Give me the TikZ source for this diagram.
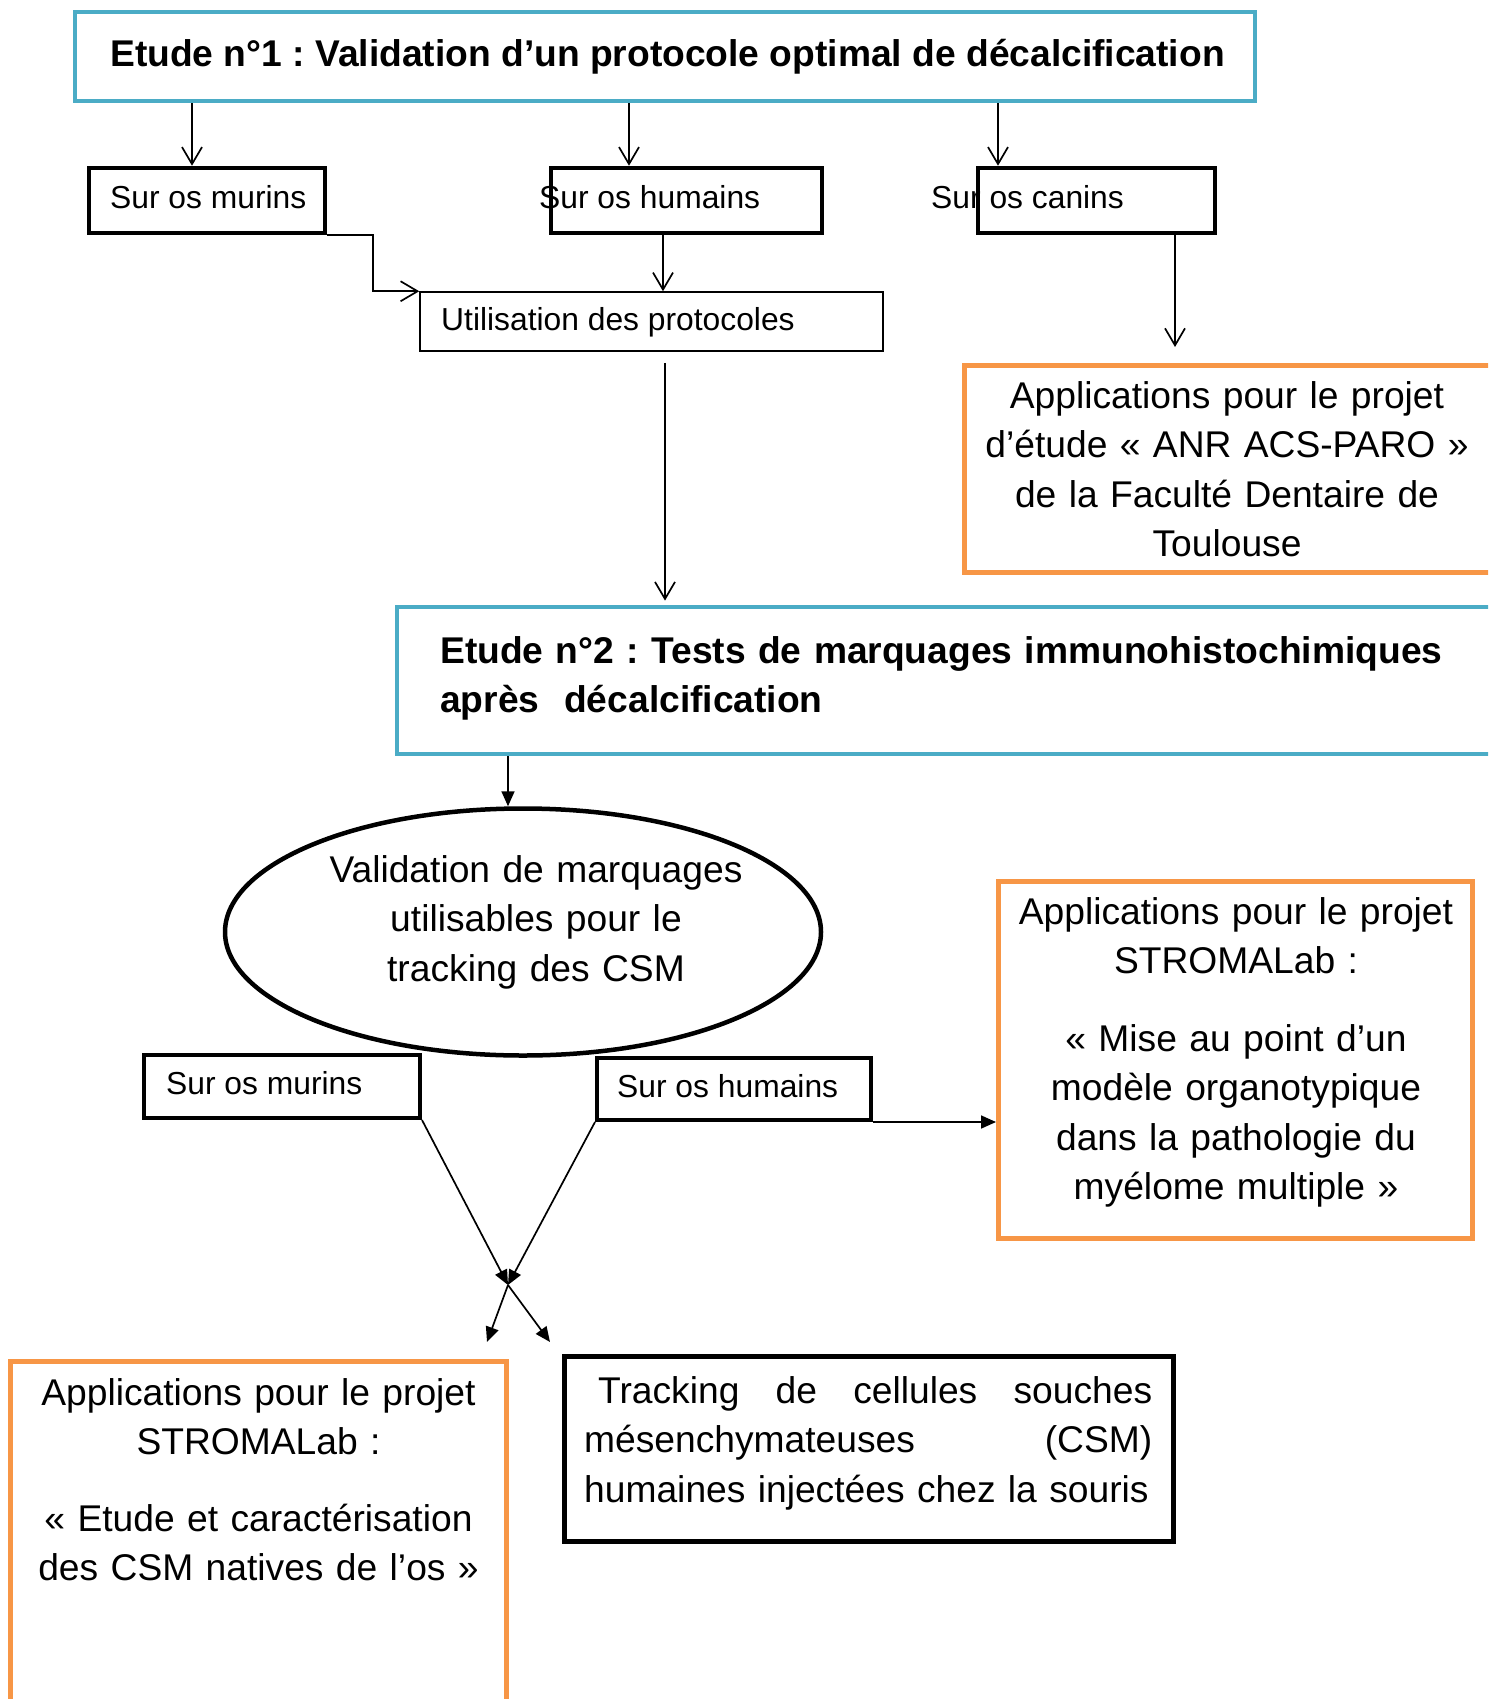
\documentclass[tikz,border=0pt]{standalone}
\usepackage{fontspec}
\setmainfont{Liberation Sans}
\usetikzlibrary{arrows.meta,shapes.geometric}
\newcommand{\bigtxt}{\fontsize{37.2}{49.5}\selectfont}
\newcommand{\smalltxt}{\fontsize{31.8}{38}\selectfont}
\frenchspacing

\begin{document}
\begin{tikzpicture}[x=1pt, y=-1pt,
    bluebox/.style={draw=etudeblue, line width=4.8pt, inner sep=0pt},
    orangebox/.style={draw=projorange, line width=5pt, inner sep=0pt},
    blackbox/.style={draw, line width=4.5pt, inner sep=0pt},
    thinbox/.style={draw, line width=1.5pt, inner sep=0pt},
    txt/.style={inner sep=0pt},
    openarrow/.style={-{Straight Barb[length=17pt,width=20pt]}, line width=1.7pt},
    fillarrow/.style={-{Triangle[length=15pt,width=13pt]}, line width=1.7pt}]
    % Define colors
    \definecolor{etudeblue}{RGB}{75,172,198}
    \definecolor{projorange}{RGB}{247,150,70}

    % Page frame
    \path[use as bounding box] (0,0) rectangle (1488,1699);
    \clip (0,0) rectangle (1488,1699);

    % Etude n°1
    \node[bluebox, minimum width=1180, minimum height=89] (etude1) at (665,56.5) {};
    \node[txt, font=\bigtxt\bfseries, anchor=base west] (etude1txt) at (110,67) {Etude n°1 : Validation d’un protocole optimal de décalcification};

    % Bones (first study)
    \node[txt, font=\smalltxt, anchor=base west] (murins1txt) at (110,208) {Sur os murins};
    \node[blackbox, minimum width=236, minimum height=65] (murins1) at (207,200.5) {};
    \node[txt, font=\smalltxt, anchor=base west] (humains1txt) at (539,208) {Sur os humains};
    \node[blackbox, minimum width=271, minimum height=65] (humains1) at (686.5,200.5) {};
    \node[txt, font=\smalltxt, anchor=base west] (canins1txt) at (931,208) {Sur os canins};
    \node[blackbox, minimum width=237, minimum height=65] (canins1) at (1096.5,200.5) {};

    % Protocols
    \node[thinbox, minimum width=463, minimum height=59] (util) at (651.5,321.5) {};
    \node[txt, font=\smalltxt, anchor=base west] (utiltxt) at (441,330) {Utilisation des protocoles};

    % ANR project
    \node[orangebox, minimum width=536, minimum height=207] (anr) at (1232,469) {};
    \node[txt, font=\bigtxt, text width=560, align=center, anchor=base] (anrtxt) at (1227,408)
        {Applications pour le projet\\ d’étude «~ANR ACS-PARO~»\\ de la Faculté Dentaire de\\ Toulouse};

    % Etude n°2
    \node[bluebox, minimum width=1103, minimum height=147] (etude2) at (948.5,680.5) {};
    \node[txt, font=\bigtxt\bfseries, text width=1040, align=left, anchor=base west] (etude2txt) at (440,663)
        {Etude n°2 : Tests de marquages immunohistochimiques\\ après\ \ décalcification};

    % Validation ellipse
    \node[ellipse, draw, line width=4.5pt, minimum width=596, minimum height=247, inner sep=0pt] (valid) at (523,932) {};
    \node[txt, font=\bigtxt, text width=500, align=center, anchor=base] (validtxt) at (536,882)
        {Validation de marquages\\ utilisables pour le\\ tracking des CSM};

    % Bones (second study)
    \node[blackbox, line width=4pt, minimum width=276, minimum height=63] (murins2) at (282,1086.5) {};
    \node[txt, font=\smalltxt, anchor=base west] (murins2txt) at (166,1094) {Sur os murins};
    \node[blackbox, line width=4pt, minimum width=274, minimum height=62] (humains2) at (734,1089) {};
    \node[txt, font=\smalltxt, anchor=base west] (humains2txt) at (617,1097) {Sur os humains};

    % STROMALab (myelome)
    \node[orangebox, minimum width=474, minimum height=357] (strom1) at (1235.5,1060) {};
    \node[txt, font=\bigtxt, text width=470, align=center, anchor=base] (strom1txt) at (1236,924)
        {Applications pour le projet\\ STROMALab :\\[28pt] «~Mise au point d’un\\ modèle organotypique\\ dans la pathologie du\\ myélome multiple~»};

    % STROMALab (CSM natives)
    \node[orangebox, minimum width=496, minimum height=349] (strom2) at (258.5,1536) {};
    \node[txt, font=\bigtxt, text width=480, align=center, anchor=base] (strom2txt) at (258.5,1405)
        {Applications pour le projet\\ STROMALab :\\[27pt] «~Etude et caractérisation\\ des CSM natives de l’os~»};

    % Tracking
    \node[blackbox, line width=5pt, minimum width=609, minimum height=185] (track) at (869,1449) {};
    \node[txt, font=\bigtxt, text width=568, align=left, anchor=base west] (tracktxt) at (584,1403)
        {\hspace*{14pt}Tracking\hfill de\hfill cellules\hfill souches\\ mésenchymateuses\hfill (CSM)\\ humaines injectées chez la souris};

    % Arrows of the first study
    \draw[openarrow] (etude1.south -| 192,0) -- (murins1.north -| 192,0);
    \draw[openarrow] (etude1.south -| 629,0) -- (humains1.north -| 629,0);
    \draw[openarrow] (etude1.south -| 998,0) -- (canins1.north -| 998,0);
    \draw[openarrow] (murins1.south east) -- ++(46,0) |- (util.north west);
    \draw[openarrow] (humains1.south -| 663,0) -- (util.north -| 663,0);
    \draw[openarrow, shorten >=16pt] (canins1.south -| 1175,0) -- (anr.north -| 1175,0);
    \draw[openarrow, shorten <=11pt, shorten >=4pt] (util.south -| 665,0) -- (etude2.north -| 665,0);

    % Arrows of the second study
    \draw[fillarrow] (etude2.south -| 508,0) -- (valid.north -| 508,0);
    \coordinate (cross) at (508,1285);
    \coordinate (tipL) at (487,1342);
    \coordinate (tipR) at (550,1342);
    \draw[fillarrow] (murins2.south east) -- (cross);
    \draw[fillarrow] (humains2.south west) -- (cross);
    \draw[fillarrow] (cross) -- (tipL);
    \draw[fillarrow] (cross) -- (tipR);
    \draw[fillarrow] (humains2.south east) -- (humains2.south east -| strom1.west);

\end{tikzpicture}
\end{document}
